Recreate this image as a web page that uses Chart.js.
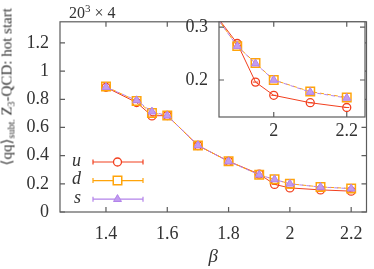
<!DOCTYPE html>
<html><head><meta charset="utf-8">
<script src="https://cdn.jsdelivr.net/npm/chart.js@4/dist/chart.umd.min.js"></script>
<style>
html,body{margin:0;padding:0;background:#fff;}
#wrap{position:relative;width:374px;height:269px;overflow:hidden;font-family:"Liberation Serif",serif;color:#333;}
#main{position:absolute;left:0;top:0;}
#inset{position:absolute;left:175px;top:0;}
#ylab{position:absolute;left:0;top:0;transform-origin:0 0;white-space:nowrap;font-size:15px;line-height:15px;}
#ylab sub{font-size:10px;vertical-align:-3px;line-height:0;}
#ann{position:absolute;left:69px;top:5px;font-size:16px;white-space:nowrap;line-height:1;}
#ann sup{font-size:11px;vertical-align:6px;line-height:0;}
.ol{text-decoration:overline;}
</style></head>
<body><div id="wrap">
<canvas id="main" width="374" height="269"></canvas>
<canvas id="inset" width="199" height="150"></canvas>
<div id="ylab">⟨<span class="ol">q</span>q⟩<sub>subt.</sub> Z<sub>3</sub>-QCD: hot start</div>
<div id="ann">20<sup>3</sup> × 4</div>
</div>
<script>
const beta = [1.4, 1.5, 1.55, 1.6, 1.7, 1.8, 1.9, 1.95, 2.0, 2.1, 2.2];
const uVals = [0.885, 0.777, 0.682, 0.685, 0.472, 0.360, 0.269, 0.196, 0.171, 0.157, 0.148];
const dVals = [0.890, 0.788, 0.703, 0.685, 0.472, 0.361, 0.264, 0.232, 0.200, 0.178, 0.167];
const sVals = [0.886, 0.792, 0.712, 0.684, 0.473, 0.359, 0.264, 0.231, 0.200, 0.177, 0.166];
const seriesNames = ['u', 'd', 's'];
const xTicks = [1.4, 1.6, 1.8, 2.0, 2.2];
const yTicks = [0, 0.2, 0.4, 0.6, 0.8, 1.0, 1.2];
const insetXTicks = [2.0, 2.2];
const insetYTicks = [0.2, 0.3];

const RED = '#f2401f', ORANGE = '#ffa40a', PURPLE = '#b383ea', PURPLE_FILL = '#c19cf0';
const FRAME = '#5c5c5c', TXT = '#333';
const FONT = '"Liberation Serif", serif';

// place rotated y-axis label: centre at (7, 87)
(function(){
  const el = document.getElementById('ylab');
  const w = el.offsetWidth, h = el.offsetHeight;
  const cx = 7, cy = 87;
  el.style.transform = 'translate(' + (cx - h/2) + 'px,' + (cy + w/2) + 'px) rotate(-90deg)';
})();

function pts(vals){ return beta.map((b,i)=>({x:b, y:vals[i]})); }

function makeDatasets(){
  return [
    {label:'u', data:pts(uVals), borderColor:RED, backgroundColor:'rgba(255,255,255,0)', borderWidth:1,
     pointStyle:'circle', pointRadius:4, pointBorderWidth:1.3, pointBorderColor:RED, order:4},
    {label:'u-err', data:pts(uVals), showLine:false, borderColor:RED, pointStyle:'line', pointRadius:2.5, pointBorderWidth:1, pointBorderColor:RED, order:3},
    {label:'d', data:pts(dVals), borderColor:ORANGE, backgroundColor:'rgba(255,255,255,0)', borderWidth:1, borderDash:[4,3],
     pointStyle:'rect', pointRadius:6, pointBorderWidth:1.5, pointBorderColor:ORANGE, order:2},
    {label:'s', data:pts(sVals), borderColor:PURPLE, backgroundColor:PURPLE_FILL, borderWidth:1, borderDash:[4,3], borderDashOffset:3.5,
     pointStyle:'triangle', pointRadius:4.6, pointBorderWidth:1, pointBorderColor:PURPLE, pointBackgroundColor:PURPLE_FILL, order:1}
  ];
}

function framePlugin(xt, yt, tickLen){
  return {
    id:'frame',
    beforeDraw(chart){
      const a = chart.chartArea, c = chart.ctx;
      c.save(); c.fillStyle = '#fff'; c.fillRect(a.left, a.top, a.right-a.left, a.bottom-a.top); c.restore();
    },
    afterDraw(chart){
      const a = chart.chartArea, c = chart.ctx;
      const xs = chart.scales.x, ys = chart.scales.y;
      c.save();
      c.strokeStyle = FRAME; c.lineWidth = 1.2;
      c.strokeRect(a.left, a.top, a.right-a.left, a.bottom-a.top);
      c.beginPath();
      xt.forEach(v=>{ const px = xs.getPixelForValue(v);
        c.moveTo(px, a.bottom); c.lineTo(px, a.bottom - tickLen);
        c.moveTo(px, a.top); c.lineTo(px, a.top + tickLen); });
      yt.forEach(v=>{ const py = ys.getPixelForValue(v);
        c.moveTo(a.left, py); c.lineTo(a.left + tickLen, py);
        c.moveTo(a.right, py); c.lineTo(a.right - tickLen, py); });
      c.stroke();
      c.restore();
    }
  };
}

const legendPlugin = {
  id:'customLegend',
  afterDraw(chart){
    const a = chart.chartArea, c = chart.ctx;
    const styles = [
      {name:seriesNames[0], color:RED, ps:'circle', r:4, fill:'#fff', bw:1.3},
      {name:seriesNames[1], color:ORANGE, ps:'rect', r:6, fill:'#fff', bw:1.5},
      {name:seriesNames[2], color:PURPLE, ps:'triangle', r:4.6, fill:PURPLE_FILL, bw:1}
    ];
    c.save();
    styles.forEach((s,i)=>{
      const y = a.bottom - 50 + i*18.6;
      const x0 = a.left + 33, x1 = a.left + 83, xm = a.left + 57.5;
      c.fillStyle = TXT; c.font = 'italic 18px ' + FONT; c.textAlign = 'right'; c.textBaseline = 'middle';
      c.fillText(s.name, a.left + 21, y - 1);
      c.strokeStyle = s.color; c.lineWidth = 1.2;
      c.beginPath(); c.moveTo(x0, y); c.lineTo(x1, y);
      c.moveTo(x0, y-2.5); c.lineTo(x0, y+2.5); c.moveTo(x1, y-2.5); c.lineTo(x1, y+2.5); c.stroke();
      c.fillStyle = s.fill; c.strokeStyle = s.color; c.lineWidth = s.bw;
      Chart.helpers.drawPoint(c, {pointStyle:s.ps, radius:s.r, rotation:0, borderWidth:s.bw}, xm, y);
    });
    c.restore();
  }
};

function tickFmt(v){ return String(Math.round(v*100)/100); }

new Chart(document.getElementById('main'), {
  type:'line',
  data:{datasets:makeDatasets()},
  options:{
    responsive:false, animation:false, devicePixelRatio:1,
    layout:{padding:{top:1, right:1, left:0, bottom:0}},
    plugins:{legend:{display:false}, tooltip:{enabled:false}},
    scales:{
      x:{type:'linear', min:1.25, max:2.25,
         afterBuildTicks(s){ s.ticks = xTicks.map(v=>({value:v})); },
         afterFit(s){ s.height = 57; },
         grid:{display:false, drawTicks:false}, border:{display:false},
         ticks:{font:{family:FONT, size:18}, color:TXT, padding:11, maxRotation:0, callback:tickFmt},
         title:{display:true, text:'β', font:{family:FONT, size:19, style:'italic'}, color:TXT, padding:{top:0,bottom:1}}},
      y:{type:'linear', min:0, max:1.35,
         afterBuildTicks(s){ s.ticks = yTicks.map(v=>({value:v})); },
         afterFit(s){ s.width = 60; },
         grid:{display:false, drawTicks:false}, border:{display:false},
         ticks:{font:{family:FONT, size:18}, color:TXT, padding:11, callback:tickFmt}}
    }
  },
  plugins:[framePlugin(xTicks, yTicks, 5), legendPlugin]
});

new Chart(document.getElementById('inset'), {
  type:'line',
  data:{datasets:makeDatasets()},
  options:{
    responsive:false, animation:false, devicePixelRatio:1,
    layout:{padding:{top:15, right:9, left:0, bottom:0}},
    plugins:{legend:{display:false}, tooltip:{enabled:false}},
    scales:{
      x:{type:'linear', min:1.85, max:2.25,
         afterBuildTicks(s){ s.ticks = insetXTicks.map(v=>({value:v})); },
         afterFit(s){ s.height = 33; },
         grid:{display:false, drawTicks:false}, border:{display:false},
         ticks:{font:{family:FONT, size:18}, color:TXT, padding:3, maxRotation:0, callback:tickFmt}},
      y:{type:'linear', min:0.13, max:0.31,
         afterBuildTicks(s){ s.ticks = insetYTicks.map(v=>({value:v})); },
         afterFit(s){ s.width = 44; },
         grid:{display:false, drawTicks:false}, border:{display:false},
         ticks:{font:{family:FONT, size:18}, color:TXT, padding:11, callback:tickFmt}}
    }
  },
  plugins:[framePlugin(insetXTicks, insetYTicks, 5)]
});
</script>
</body></html>
